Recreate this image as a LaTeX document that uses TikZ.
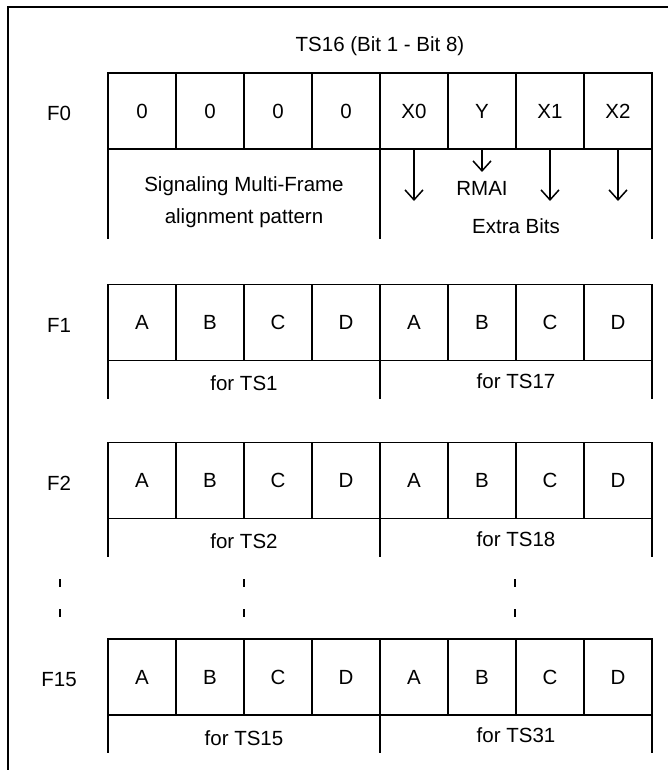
\documentclass[tikz,border=0pt]{standalone}
\usepackage{fontspec}
\setmainfont{Liberation Sans}
\usetikzlibrary{arrows.meta}
\tikzset{
  bitcell/.style={draw,rectangle,minimum width=68pt,minimum height=76pt,inner sep=0pt,outer sep=0pt},
  dotmark/.style={line width=2pt,dash pattern=on 8pt off 22pt},
}
\begin{document}
\begin{tikzpicture}[x=1pt,y=-1pt,line width=1.5pt,every node/.style={font=\fontsize{20.5}{32}\selectfont},>={Straight Barb[length=10pt,width=18pt]}]
\useasboundingbox (0,0) rectangle (668,770);
% frame
\draw[line width=2pt] (668,7.5) -- (7.5,7.5) -- (7.5,770);
\node (title) at (380,46) {TS16 (Bit 1 - Bit 8)};
% F0
\node (lF0) at (59,113) {F0};
\foreach \b [count=\i] in {0,0,0,0,X0,Y,X1,X2}
  \node[bitcell] (f0-\i) at (74+68*\i,111) {\b};
\draw (f0-1.south west) -- ++(0,90);
\draw (f0-4.south east) -- ++(0,90);
\draw (f0-8.south east) -- ++(0,90);
\node[align=center] (smf) at (244,202) {Signaling Multi-Frame\\alignment pattern};
\coordinate (x0tip) at ([yshift=-52pt]f0-5.south);
\coordinate (ytip) at ([yshift=-23pt]f0-6.south);
\coordinate (x1tip) at ([yshift=-52pt]f0-7.south);
\coordinate (x2tip) at ([yshift=-52pt]f0-8.south);
\draw[->] (f0-5.south) -- (x0tip);
\draw[->] (f0-6.south) -- (ytip);
\draw[->] (f0-7.south) -- (x1tip);
\draw[->] (f0-8.south) -- (x2tip);
\node (rmai) at (482,188) {RMAI};
\node (extra) at (516,226) {Extra Bits};
% F1, F2, F15
\foreach \r/\y/\lo/\hi in {1/322.5/TS1/TS17, 2/480.5/TS2/TS18, 15/677/TS15/TS31} {
  \node (lF\r) at (59,\y+3) {F\r};
  \foreach \b [count=\i] in {A,B,C,D,A,B,C,D}
    \node[bitcell] (f\r-\i) at (74+68*\i,\y) {\b};
  \draw (f\r-1.south west) -- ++(0,38);
  \draw (f\r-4.south east) -- ++(0,38);
  \draw (f\r-8.south east) -- ++(0,38);
  \node (lo\r) at (244,\y+61) {for \lo};
  \node (hi\r) at (516,\y+58.5) {for \hi};
}
% skipped frames
\foreach \x in {60,244,515}
  \draw[dotmark] (\x,579) -- (\x,617);
\end{tikzpicture}
\end{document}
